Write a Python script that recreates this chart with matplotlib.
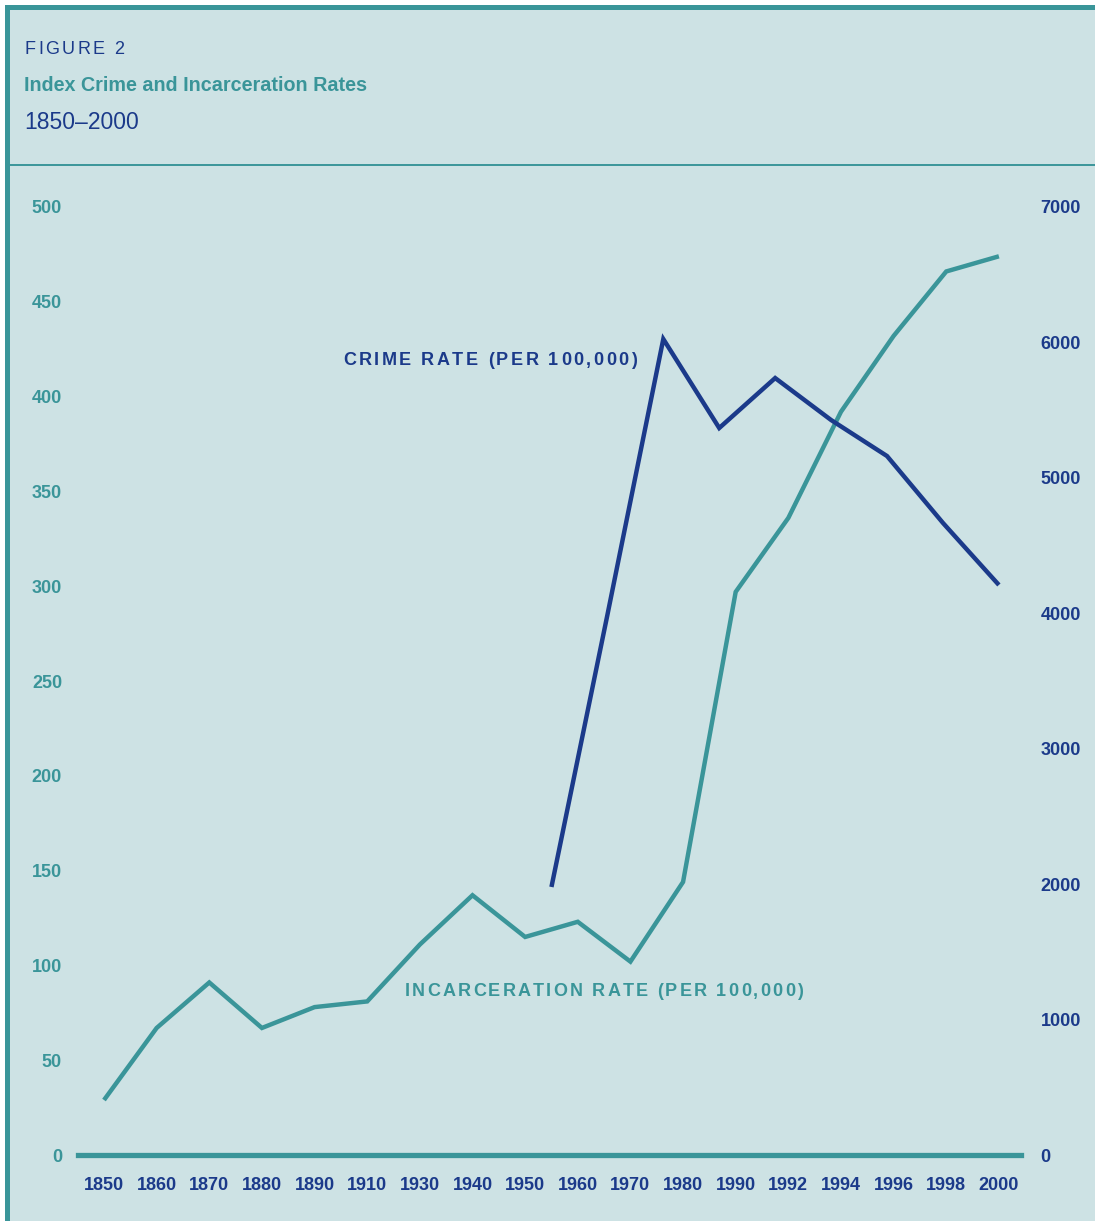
import matplotlib.pyplot as plt
from matplotlib.patches import Rectangle
from matplotlib.lines import Line2D
from matplotlib.font_manager import FontProperties

# x categories (evenly spaced, not to scale)
years = ['1850', '1860', '1870', '1880', '1890', '1910', '1930', '1940', '1950',
         '1960', '1970', '1980', '1990', '1992', '1994', '1996', '1998', '2000']
incarceration = [29, 67, 91, 67, 78, 81, 111, 137, 115, 123, 102, 144,
                 297, 336, 392, 432, 466, 474]

# crime series sits between the category slots
crime_x = [8.5, 9.5625, 10.625, 11.6875, 12.75, 13.8125, 14.875, 15.9375, 17]
crime = [1979, 3987, 6025, 5368, 5737, 5427, 5161, 4667, 4209]

left_ticks = list(range(0, 501, 50))
right_ticks = list(range(0, 7001, 1000))

bg = '#cde2e4'
teal = '#3a9599'
navy = '#1b3a8a'

W, H = 1095, 1221
fig = plt.figure(figsize=(W / 100, H / 100), dpi=100)
fig.patch.set_facecolor('white')

# panel background and borders
fig.patches.append(Rectangle((5 / W, 0), 1, (H - 5) / H, transform=fig.transFigure,
                             facecolor=bg, edgecolor='none', zorder=-3))
fig.patches.append(Rectangle((5 / W, 0), 5 / W, (H - 5) / H, transform=fig.transFigure,
                             facecolor=teal, edgecolor='none', zorder=-2))
fig.patches.append(Rectangle((5 / W, (H - 10) / H), 1, 5 / H, transform=fig.transFigure,
                             facecolor=teal, edgecolor='none', zorder=-2))
fig.lines.append(Line2D([10 / W, 1], [1 - 165 / H] * 2, transform=fig.transFigure,
                        color=teal, lw=1.4, zorder=-2))

renderer = fig.canvas.get_renderer()


def text_w(s, fp):
    w, _, _ = renderer.get_text_width_height_descent('x' + s + 'x', fp, ismath=False)
    w0, _, _ = renderer.get_text_width_height_descent('xx', fp, ismath=False)
    return w - w0


def tracked(x, y, s, width, fp, color):
    # letter-spaced text, stretched to fill the given pixel width
    widths = [text_w(ch, fp) for ch in s]
    gap = (width - sum(widths)) / (len(s) - 1)
    for ch, w in zip(s, widths):
        fig.text(x / W, 1 - y / H, ch, fontproperties=fp, color=color,
                 va='baseline', ha='left')
        x += w + gap


title_fp = FontProperties(family='Liberation Sans', weight='bold', size=14.2)
light = FontProperties(family='Liberation Sans', size=13)
regular = FontProperties(family='Liberation Sans', size=16.5)
label_fp = FontProperties(family='Liberation Sans', weight='bold', size=13)

tracked(25, 54, 'FIGURE 2', 99, light, navy)
fig.text(24 / W, 1 - 91 / H, 'Index Crime and Incarceration Rates',
         fontproperties=title_fp, color=teal, va='baseline')
fig.text(24 / W, 1 - 129 / H, '1850\u20132000', fontproperties=regular,
         color=navy, va='baseline')

ax = fig.add_axes([78 / W, 1 - 1155 / H, (1021 - 78) / W, (1155 - 207) / H])
ax.set_facecolor('none')
ax.set_xlim(-0.494, 17.42)
ax.set_ylim(0, 500)
ax.plot(range(len(years)), incarceration, color=teal, lw=3.2, clip_on=False,
        solid_joinstyle='miter', solid_capstyle='butt', zorder=3)
ax.axhline(0, color=teal, lw=3.8, clip_on=False, zorder=2)

ax2 = ax.twinx()
ax2.set_ylim(0, 7000)
ax2.plot(crime_x, crime, color=navy, lw=3.2, clip_on=False,
         solid_joinstyle='miter', solid_capstyle='butt', zorder=3)

for a in (ax, ax2):
    for sp in a.spines.values():
        sp.set_visible(False)

ax.set_xticks(range(len(years)))
ax.set_xticklabels(years)
ax.set_yticks(left_ticks)
ax.tick_params(axis='x', length=0, pad=15.5, labelcolor=navy, labelsize=13)
ax.tick_params(axis='y', length=0, pad=11.5, labelcolor=teal, labelsize=13)
ax2.set_yticks(right_ticks)
ax2.tick_params(axis='y', length=0, pad=14, labelcolor=navy, labelsize=13)
for t in ax.get_xticklabels() + ax.get_yticklabels() + ax2.get_yticklabels():
    t.set_fontweight('bold')
    t.set_fontfamily('Liberation Sans')

tracked(343, 365, 'CRIME RATE (PER 100,000)', 294, label_fp, navy)
tracked(405, 996, 'INCARCERATION RATE (PER 100,000)', 398, label_fp, teal)

fig.savefig('out.png', dpi=100, facecolor=fig.get_facecolor())
